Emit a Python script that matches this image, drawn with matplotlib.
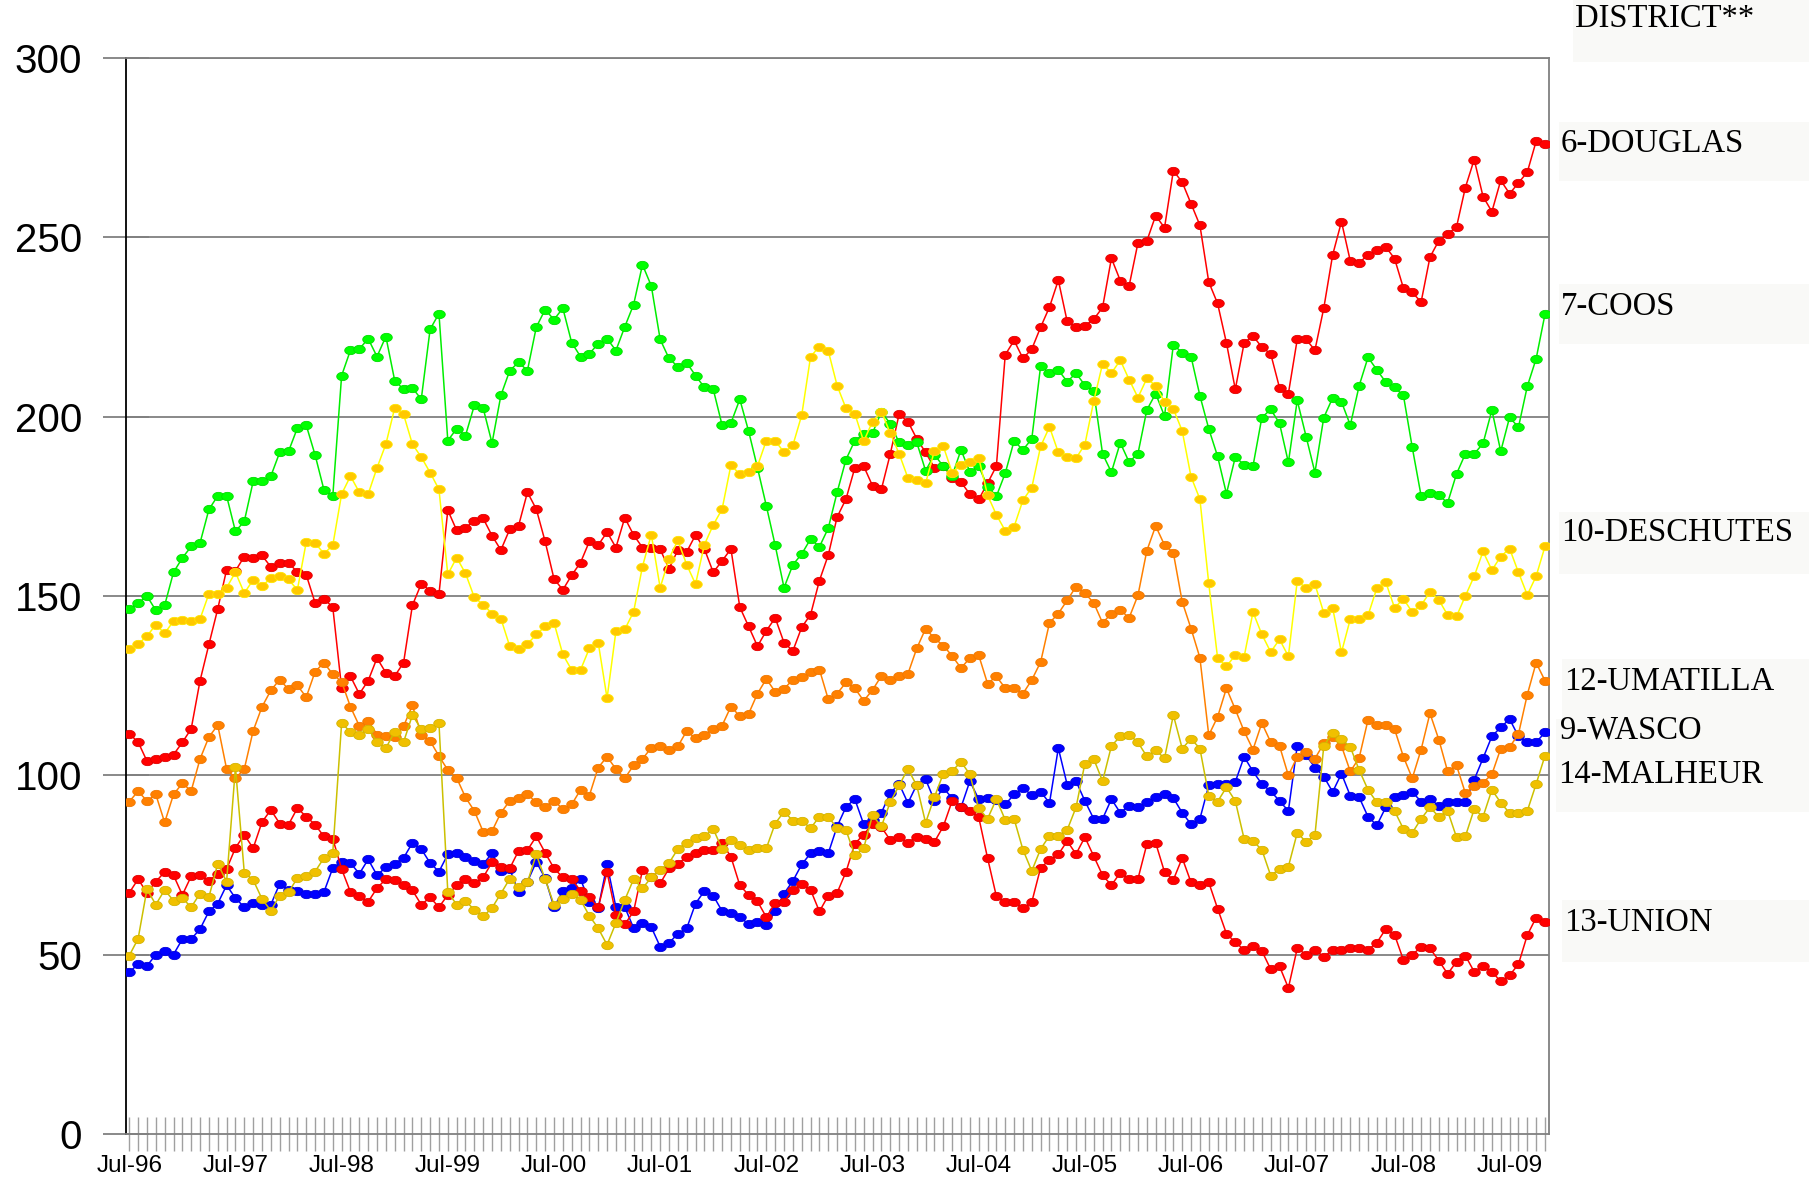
import numpy as np
import matplotlib
matplotlib.use("Agg")
import matplotlib.pyplot as plt
from matplotlib.path import Path
from matplotlib.patches import Rectangle

# ---------------- data (monthly, Jul-96 .. Nov-09) ----------------
douglas = [111.6,109.3,104,104.5,105,105.8,109.2,113,126.4,136.5,
146.4,157.3,157,161,160.5,161.3,158.1,159.3,159.3,156.6,
155.9,148.1,149.2,146.9,124.3,127.6,122.7,126.4,132.7,128.6,
127.7,131.4,147.4,153.4,151.5,150.5,173.9,168.3,169,171,
171.6,166.8,162.8,168.6,169.6,178.9,174.2,165.2,154.8,151.7,
155.8,159.3,165.2,164.2,167.8,163.5,171.8,167,163.5,163.5,
163,157.6,162.8,162.3,167,163.1,156.6,159.8,163.1,146.9,
141.5,136,140.3,143.9,137,134.7,141.3,144.8,154.3,161.4,
172,177,185.7,186.2,180.7,179.7,189.5,200.6,198.6,193.8,
190,185.7,186.2,183,181.7,178.4,176.9,181.4,186.2,217.2,
221.2,216.2,218.8,224.9,230.5,238,226.5,224.9,225.3,227.1,
230.4,244.1,237.9,236.4,248.4,248.9,256,252.6,268.5,265.3,
259.3,253.3,237.5,231.5,220.5,207.6,220.5,222.5,219.3,217.5,
208,206.4,221.5,221.5,218.5,230.2,245,254.3,243.3,242.9,
245,246.5,247.3,244,235.8,234.6,231.9,244.4,249,250.9,
252.8,263.8,271.6,261.3,257.1,265.8,262.1,265.1,268.1,276.7,276]

coos = [146.4,148,150,146,147.4,156.6,160.6,163.8,164.8,174.1,
177.9,177.9,168,170.8,181.9,182.1,183.4,190,190.3,196.8,
197.6,189.3,179.6,177.8,211.4,218.5,218.8,221.7,216.7,222.3,
210,207.6,208,204.8,224.3,228.7,193.3,196.6,194.7,203.1,
202.3,192.6,205.9,212.8,215.1,212.8,224.9,229.8,227,230.2,
220.6,216.7,217.5,220.3,221.7,218.4,225,231.2,242.3,236.4,
221.5,216.2,213.9,215,211.4,208.1,207.6,197.6,198.2,204.8,
195.9,185.7,175.1,164.1,152.3,158.7,161.7,165.9,163.7,168.9,
178.9,188,193.3,195.1,195.4,201.3,198,192.8,192.2,192.8,
184.9,189.4,186.1,183.5,190.7,184.6,186.2,180.5,177.8,184.2,
193.2,190.7,193.8,214.1,212.1,213,209.7,212.1,208.7,207,
189.6,184.5,192.7,187.3,189.7,201.8,206.4,200.1,220,217.8,
216.7,205.8,196.6,188.9,178.5,188.7,186.6,186.2,199.7,202,
198.1,187.2,204.5,194.4,184.4,199.7,205.2,204.1,197.6,208.6,
216.5,213,209.6,208.1,205.9,191.4,177.9,178.8,178,176,
184,189.6,189.6,192.5,201.8,190.3,199.8,197,208.4,216.1,228.5]

wasco = [45.2,47.4,46.9,50.1,51.1,50.1,54.4,54.4,57.2,62.1,
64.3,69.4,65.8,63.3,64.5,63.8,64,69.8,68.1,67.8,
67.1,67.1,67.5,74.2,75.9,75.6,72.6,76.6,72.2,74.4,
75.4,77,81.2,79.5,75.6,73.2,78,78.3,77.2,76.2,
75.3,78.3,73.4,73.9,67.5,70.4,75.9,71.4,63.3,67.8,
68.5,71.1,64.8,63,75.2,63.3,63.3,57.5,59,57.7,
52.3,53.3,55.9,57.4,64.3,67.8,66.5,62.2,61.8,60.5,
58.6,59.2,58.2,62.2,67.1,70.6,75.2,78.3,79,78.3,
85.8,91.2,93.4,86.4,87.6,89.6,95,97.7,92.3,97.4,
98.9,93,96.5,93.7,91.1,98.4,93.4,93.7,93.2,91.9,
94.7,96.5,94.5,95.5,92.3,107.6,97.4,98.4,92.9,87.9,
87.9,93.4,89.6,91.6,91.1,92.7,94,94.7,93.7,89.6,
86.4,87.9,97.2,97.7,97.5,98.2,105.2,101.1,97.6,95.6,
92.9,90.1,108.3,105.6,102.2,99.7,95.4,100.5,94.3,93.9,
88.5,86.1,91.1,93.9,94.5,95.4,92.7,93.4,91.6,92.7,
92.7,92.7,98.8,104.8,110.9,113.4,115.7,110.9,109.2,109.2,112]

deschutes = [135.2,136.6,138.8,142,139.6,143,143.3,142.9,143.6,150.6,
150.6,152.3,156.6,150.8,154.5,152.8,154.9,155.6,154.6,151.7,
165,164.8,161.8,164.1,178.4,183.4,178.9,178.4,185.7,192.3,
202.4,200.6,192.3,188.7,184.4,179.7,156,160.7,156.3,149.6,
147.6,145.1,143.7,136,135.2,136.6,139.3,141.5,142.6,133.7,
129.4,129.4,135.4,137,121.5,140.2,140.7,145.6,158.2,167.1,
152.3,160.4,165.5,158.7,153.3,164.3,169.8,174.2,186.5,183.9,
184.5,186.2,193.3,193.3,190,192,200.4,216.7,219.5,218.3,
208.6,202.3,200.8,193.1,198.6,201.4,195.4,189.7,182.9,182.2,
181.4,190.5,191.7,184.4,186.5,187.2,188.5,178.1,172.6,168.2,
169.3,176.7,180.2,191.7,197.1,190,188.7,188.4,192.2,204.3,
214.7,212.1,215.7,210.3,205.3,210.6,208.6,204.1,202.1,196,
183.2,177,153.5,132.7,130.4,133.5,133.1,145.5,139.3,134.4,
137.9,133.2,154.2,152.2,153.3,145.3,146.7,134.3,143.6,143.6,
144.6,152.2,153.9,146.7,149.2,145.5,147.4,151.1,148.9,144.7,
144.3,150,155.5,162.4,157.2,161,163.2,156.6,150.3,155.5,163.8]

umatilla = [92.7,95.6,92.9,94.7,86.9,94.7,97.8,95.7,104.6,110.7,
114,101.8,99.2,101.8,112.4,119.1,123.7,126.7,124,125.1,
121.8,128.9,131.4,128.2,126.1,119.1,113.8,115.2,111.4,110.9,
110.7,113.7,119.5,111.4,109.6,105.4,101.5,99.3,93.9,90.1,
84.3,84.5,89.6,92.9,93.7,94.7,92.5,91.3,93,90.6,
91.9,96,94.4,102.2,105.2,101.8,99.2,102.8,104.6,107.7,
108.1,107.1,108.1,112.4,110.3,111.4,112.9,113.9,119.2,116.5,
117.2,122.8,126.9,123.3,124.1,126.7,127.3,128.9,129.5,121.2,
122.8,125.9,124.3,120.8,123.8,127.7,126.6,127.7,128.3,135.4,
140.9,138.2,136.2,133.3,129.9,132.7,133.5,125.6,127.6,124.3,
124.4,122.8,126.6,131.6,142.5,145.1,148.8,152.6,150.8,148.1,
142.5,145.1,146.1,143.9,150.2,162.6,169.5,164.2,162,148.4,
140.9,132.8,111.2,116.3,124.3,118.4,112.3,107.2,114.6,109.3,
108.2,100,105.2,106.5,104.7,108.9,110.7,108.2,101.1,104.9,
115.5,114.1,114.1,112.9,105.2,99.2,107.2,117.3,110,101.1,
102.8,95.1,97,98,100.3,107.5,107.9,111.5,122.5,131.4,126.4]

union = [67.3,71.1,67.3,70.4,73.1,72.2,66.7,71.9,72.2,70.6,
72.6,73.9,79.8,83.5,79.7,87,90.4,86.6,86.3,90.9,
88.5,86.3,83,82.4,73.9,67.5,66.5,64.8,68.6,71.1,
70.9,69.4,68,64,66,63.3,66.7,69.4,71.1,69.9,
71.6,75.8,74.6,74.1,79,79.2,83,78.5,74.1,71.6,
71.1,67.8,66.1,63.2,73.1,61.2,58.5,62.1,73.6,71.6,
69.9,74.1,75.4,77.3,78.5,79.2,79.2,81.2,77.3,69.4,
66.7,64.9,60.5,64.5,64.8,68.1,69.7,68.1,62.1,66.5,
67.3,73.1,81,83.5,86.6,85.6,82,82.8,81.3,82.9,
82.3,81.5,85.8,92.9,91.2,90.1,88.4,77,66.3,64.8,
64.8,63,64.7,74.3,76.4,78,81.7,78.1,82.8,77.5,
72.2,69.4,72.9,71.2,71.2,80.8,81.2,73.1,70.9,77,
70.2,69.5,70.2,62.9,55.9,53.5,51.4,52.4,51.1,46,
46.8,40.8,51.8,50.1,51.4,49.5,51.3,51.4,51.8,51.8,
51.4,53.4,57.2,55.6,48.6,50.1,52.1,51.8,48.4,44.7,
48.1,49.8,45.3,46.9,45.3,42.6,44.3,47.4,55.5,60.4,59.2]

malheur = [49.8,54.5,68.3,64,68.1,65.1,65.8,63.3,67.1,66.1,
75.4,70.4,102.3,72.9,70.9,65.6,62.3,66.5,67.5,71.4,
71.9,73.2,77,78.5,114.6,112.1,111.4,112.9,109.4,107.6,
112.2,109.3,116.8,112.9,113.1,114.6,67.5,64,65.1,62.5,
60.7,63.1,67.1,71.2,68.8,70.2,78,71.1,64,65.6,
67.1,65.3,60.9,57.4,52.8,58.9,65.3,71.1,68.5,71.6,
73.7,75.6,79.5,81.3,82.5,83,85.1,79.5,82,80.5,
79.2,79.7,79.7,86.6,89.9,87.4,87.4,85.3,88.5,88.5,
85.3,84.8,77.7,79.7,88.9,85.8,92.5,97.2,101.8,97.2,
86.8,94,100.5,101.2,103.8,100.3,90.9,87.9,93.4,87.6,
87.9,79.3,73.4,79.5,83.2,83.2,84.8,91.1,103.3,104.6,
98.4,108.2,110.9,111.4,109.2,105.3,107,104.8,116.8,107.5,
110.2,107.5,94.4,92.7,96.7,92.9,82.3,81.7,79.3,72.1,
73.9,74.6,84,81.5,83.3,108.2,111.9,110.2,107.9,101.5,
96,92.5,92.7,90.1,85.1,84,87.9,91.1,88.5,90.1,
82.8,83,90.6,88.5,96,92.4,89.5,89.5,90.1,97.6,105.5]

tick_labels = ["Jul-96","Jul-97","Jul-98","Jul-99","Jul-00","Jul-01","Jul-02",
               "Jul-03","Jul-04","Jul-05","Jul-06","Jul-07","Jul-08","Jul-09"]
y_ticks = [0, 50, 100, 150, 200, 250, 300]

series = [
    ("6-DOUGLAS", douglas, "#FF0000", "#FF0000", "#E00000"),
    ("7-COOS", coos, "#00EE00", "#00FF00", "#00DD00"),
    ("9-WASCO", wasco, "#0000FF", "#0000FF", "#0000DD"),
    ("10-DESCHUTES", deschutes, "#FFFF00", "#FFC800", "#FFE600"),
    ("12-UMATILLA", umatilla, "#FF8000", "#FF8000", "#F07800"),
    ("13-UNION", union, "#FF0000", "#FF0000", "#E00000"),
    ("14-MALHEUR", malheur, "#CCC000", "#F0C000", "#D4B400"),
]

# elliptical marker
t = np.linspace(0, 2*np.pi, 40)
verts = np.column_stack([np.cos(t), 0.72*np.sin(t)])
ell = Path(verts, closed=True)

W, H = 1809, 1179
fig = plt.figure(figsize=(W/100, H/100), dpi=100)
fig.patch.set_facecolor("white")
ax = fig.add_axes([0.0695, 0.0379, 0.8565-0.0695, 0.9511-0.0379])

x = np.arange(len(douglas))
for name, vals, lc, fc, ec in series:
    ax.plot(x, vals, color=lc, lw=1.1, marker=ell, markersize=8.3,
            markerfacecolor=fc, markeredgecolor=ec, markeredgewidth=0.6, zorder=3)

ax.set_xlim(-0.4, 160.5)
ax.set_ylim(0, 300)

for v in [50, 100, 150, 200, 250, 300]:
    ax.axhline(v, color="#808080", lw=1.3, zorder=1)

ax.set_yticks(y_ticks)
ax.set_yticklabels([str(v) for v in y_ticks], fontsize=29, fontfamily="Liberation Sans")
ax.tick_params(axis="y", direction="inout", length=33, width=1.3, color="#808080", pad=15)

ax.set_xticks(np.arange(0, 161, 12))
ax.set_xticklabels(tick_labels, fontsize=17.5, fontfamily="Liberation Sans")
ax.set_xticks(np.arange(0, 161, 1), minor=True)
ax.tick_params(axis="x", which="both", direction="inout", length=24.5, width=1.0,
               color="#A0A0A0", pad=3)

ax.spines["left"].set_color("black")
ax.spines["left"].set_linewidth(1.3)
for s in ["right", "top", "bottom"]:
    ax.spines[s].set_color("#808080")
    ax.spines[s].set_linewidth(1.3)

# right-hand labels with faint background boxes
labels = [
    ("DISTRICT**", 1575, 19, 1573, 0, 62),
    ("6-DOUGLAS", 1561, 144, 1559, 122, 59),
    ("7-COOS", 1561, 307, 1559, 284, 60),
    ("10-DESCHUTES", 1561, 533, 1559, 512, 62),
    ("12-UMATILLA", 1564, 682, 1562, 659, 60),
    ("9-WASCO", 1560, 730, 1558, 719, 0),
    ("14-MALHEUR", 1558, 775, 1556, 719, 93),
    ("13-UNION", 1564, 923, 1562, 900, 62),
]
for txt, tx, ty, bx, by, bh in labels:
    if bh > 0:
        fig.patches.append(Rectangle((bx/W, 1-(by+bh)/H), (W-bx)/W, bh/H,
                                     transform=fig.transFigure, facecolor="#F9F9F7",
                                     edgecolor="none", zorder=0))
    fig.text(tx/W, 1-ty/H, txt, fontsize=23.5, fontfamily="Liberation Serif",
             ha="left", va="center", color="black")

fig.savefig("out.png", dpi=100, facecolor="white")
